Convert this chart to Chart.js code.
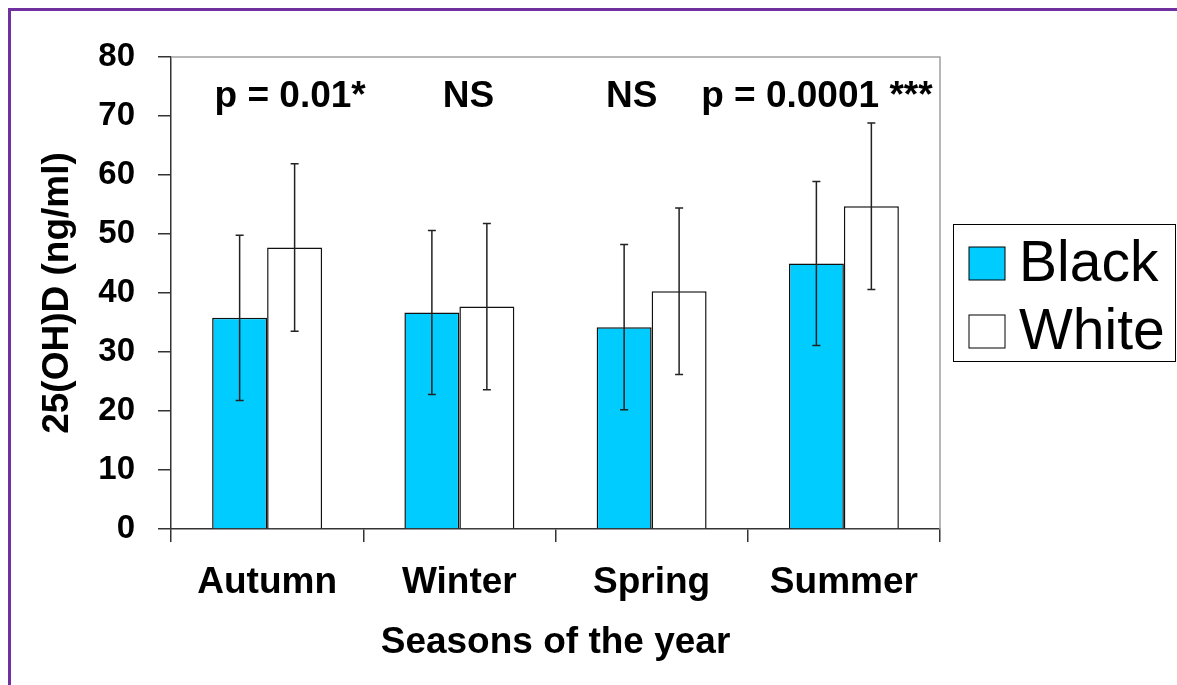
<!DOCTYPE html>
<html>
<head>
<meta charset="utf-8">
<script src="https://cdn.jsdelivr.net/npm/chart.js@4"></script>
<style>
  html, body { margin: 0; padding: 0; background: #fff; overflow: hidden; }
  #frame { position: absolute; left: 8px; top: 8px; width: 1300px; height: 800px;
           border-top: 3px solid #7030A0; border-left: 3px solid #7030A0; }
  #wrap { position: absolute; left: 0; top: 0; width: 1177px; height: 685px; }
</style>
</head>
<body>
<div id="frame"></div>
<div id="wrap"><canvas id="chart" width="1177" height="685"></canvas></div>
<script>
// Données
const seasons = ['Autumn', 'Winter', 'Spring', 'Summer'];
const blackMeans = [35.8, 36.7, 34.2, 45.0];
const blackSD = [14.0, 13.9, 14.0, 13.9];
const whiteMeans = [47.7, 37.7, 40.3, 54.7];
const whiteSD = [14.2, 14.1, 14.1, 14.1];
const pLabels = ['p = 0.01*', 'NS', 'NS', 'p = 0.0001 ***'];
const yTicks = [0, 10, 20, 30, 40, 50, 60, 70, 80];

const FONT = '"Liberation Sans", Arial, sans-serif';

// Barres d'erreur (moyenne ± écart-type)
const errorBars = {
    id: 'errorBars',
    afterDatasetsDraw(chart) {
        const ctx = chart.ctx;
        const y = chart.scales.y;
        ctx.save();
        ctx.strokeStyle = '#222';
        ctx.lineWidth = 1.5;
        chart.data.datasets.forEach((ds, i) => {
            const meta = chart.getDatasetMeta(i);
            meta.data.forEach((bar, j) => {
                const top = y.getPixelForValue(ds.data[j] + ds.sd[j]);
                const bot = y.getPixelForValue(ds.data[j] - ds.sd[j]);
                ctx.beginPath();
                ctx.moveTo(bar.x, top); ctx.lineTo(bar.x, bot);
                ctx.moveTo(bar.x - 4, top); ctx.lineTo(bar.x + 4, top);
                ctx.moveTo(bar.x - 4, bot); ctx.lineTo(bar.x + 4, bot);
                ctx.stroke();
            });
        });
        ctx.restore();
    }
};

// Cadre gris du haut et de droite, textes p, légende encadrée
const extras = {
    id: 'extras',
    afterDraw(chart) {
        const ctx = chart.ctx;
        const a = chart.chartArea;
        const x = chart.scales.x, y = chart.scales.y;
        ctx.save();
        ctx.strokeStyle = '#a0a0a0';
        ctx.lineWidth = 1.5;
        ctx.beginPath();
        ctx.moveTo(a.left, a.top); ctx.lineTo(a.right, a.top); ctx.lineTo(a.right, a.bottom);
        ctx.stroke();

        // annotations de significativité
        const shift = [23, 9, -20, -27];
        ctx.fillStyle = '#000';
        ctx.font = 'bold 37px ' + FONT;
        ctx.textAlign = 'center';
        ctx.textBaseline = 'alphabetic';
        pLabels.forEach((t, i) => {
            ctx.fillText(t, x.getPixelForValue(i) + shift[i], y.getPixelForValue(71.6));
        });

        // légende
        ctx.strokeStyle = '#000';
        ctx.lineWidth = 1;
        ctx.strokeRect(953.5, 224.5, 222, 137);
        ctx.font = '57px ' + FONT;
        ctx.textAlign = 'left';
        ctx.textBaseline = 'middle';
        chart.data.datasets.forEach((ds, i) => {
            const cy = 263.5 + i * 68;
            ctx.fillStyle = ds.backgroundColor;
            ctx.fillRect(969, cy - 16.5, 36, 33);
            ctx.strokeStyle = '#000';
            ctx.strokeRect(969, cy - 16.5, 36, 33);
            ctx.fillStyle = '#000';
            ctx.fillText(ds.label, 1019, cy + 2);
        });
        ctx.restore();
    }
};

const ctx = document.getElementById('chart').getContext('2d');
new Chart(ctx, {
    type: 'bar',
    data: {
        labels: seasons,
        datasets: [{
            label: 'Black',
            data: blackMeans,
            sd: blackSD,
            backgroundColor: '#00CCFF',
            borderColor: '#111',
            borderWidth: 1.5
        }, {
            label: 'White',
            data: whiteMeans,
            sd: whiteSD,
            backgroundColor: '#ffffff',
            borderColor: '#111',
            borderWidth: 1.5
        }]
    },
    options: {
        responsive: false,
        animation: false,
        devicePixelRatio: 1,
        layout: { padding: { left: 30, top: 57, right: 237, bottom: 20 } },
        datasets: { bar: { categoryPercentage: 0.572, barPercentage: 1.0 } },
        plugins: { legend: { display: false }, tooltip: { enabled: false } },
        scales: {
            x: {
                grid: { drawOnChartArea: false, tickLength: 13, color: '#333', lineWidth: 1.5 },
                border: { color: '#333', width: 1.5 },
                ticks: { color: '#000', padding: 19, font: { family: FONT, size: 37, weight: 'bold' } },
                title: { display: true, text: 'Seasons of the year', color: '#000',
                         padding: { top: 0, bottom: 0 },
                         font: { family: FONT, size: 37, weight: 'bold' } },
                afterFit(s) { s.height = 136; }
            },
            y: {
                min: 0, max: 80,
                afterBuildTicks(s) { s.ticks = yTicks.map(v => ({ value: v })); },
                grid: { drawOnChartArea: false, tickLength: 13, color: '#333', lineWidth: 1.5 },
                border: { color: '#333', width: 1.5 },
                ticks: { color: '#000', padding: 23, font: { family: FONT, size: 33, weight: 'bold' } },
                title: { display: true, text: '25(OH)D (ng/ml)', color: '#000',
                         padding: { top: 6, bottom: 0 },
                         font: { family: FONT, size: 37, weight: 'bold' } },
                afterFit(s) { s.width = 141; }
            }
        }
    },
    plugins: [errorBars, extras]
});
</script>
</body>
</html>
